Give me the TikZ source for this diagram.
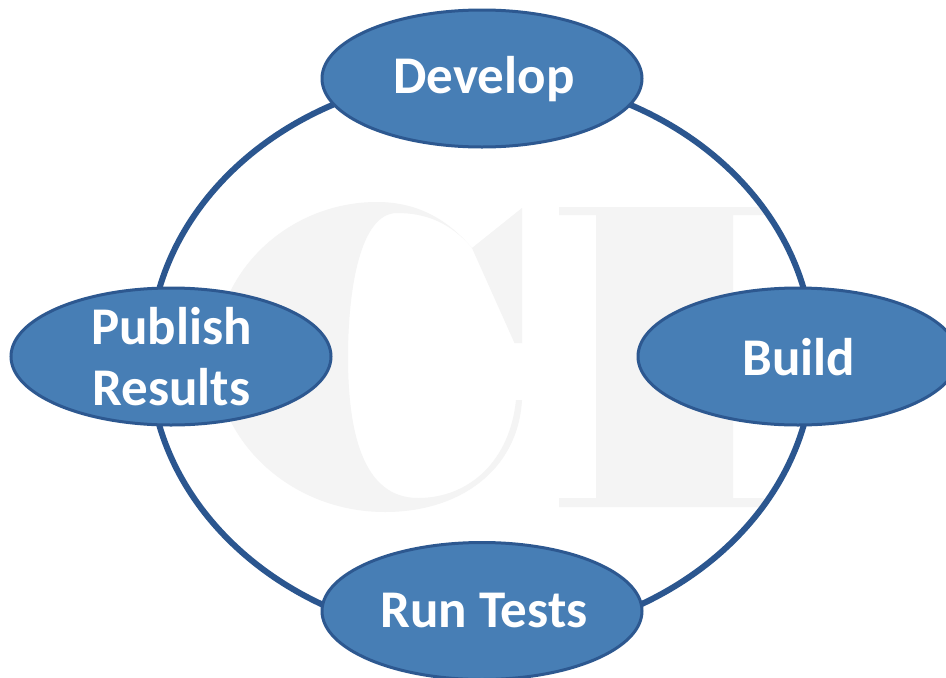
\documentclass[tikz,border=0pt]{standalone}
\usepackage{fontspec}
\setmainfont{Carlito}
\usetikzlibrary{shapes.geometric}
\definecolor{stagefill}{RGB}{71,126,181}
\definecolor{stageline}{RGB}{45,88,144}
\definecolor{cycleline}{RGB}{43,86,143}
\definecolor{wmgrey}{RGB}{244,244,244}
\tikzset{
  stagebox/.style={ellipse, draw=stageline, line width=3pt, fill=stagefill,
    minimum width=320pt, minimum height=137pt, inner sep=0pt},
  stagetext/.style={text=white, font=\fontsize{53}{61}\selectfont\bfseries,
    inner sep=0pt, align=center},
  watermark/.style={fill=wmgrey, draw=none},
  cycleloop/.style={draw=cycleline, line width=6pt}
}
\begin{document}
\begin{tikzpicture}[x=1pt,y=-1pt]
\useasboundingbox (0,0) rectangle (946,678);
\clip (0,0) rectangle (946,678);
\fill[white] (0,0) rectangle (946,678);
% watermark C
\fill[watermark] (522,208) -- (522,343) -- (514.5,343) -- (472,248)
  .. controls (450,222) and (425,213) .. (397,213)
  .. controls (360,213) and (348,290) .. (348,357)
  .. controls (348,430) and (362,498) .. (418,498)
  .. controls (470,498) and (510,460) .. (516,400)
  -- (522,400)
  .. controls (518,470) and (460,512) .. (385,512)
  .. controls (290,512) and (215,440) .. (215,357)
  .. controls (215,270) and (290,202) .. (377,202)
  .. controls (420,202) and (450,222) .. (472,248)
  -- cycle;
% watermark I
\fill[watermark] (559,207) -- (764,207) -- (764,215) -- (733,215) -- (733,498)
  -- (764,498) -- (764,507) -- (559,507) -- (559,498) -- (596,498)
  -- (596,215) -- (559,215) -- cycle;
% cycle
\coordinate (cyc) at (481.5,357);
\draw[cycleloop] (cyc) ellipse [x radius=332pt, y radius=282pt];
% stages
\node[stagebox] (dev) at (482,78.5) {};
\node[stagebox] (bld) at (798,356.5) {};
\node[stagebox] (tst) at (482,611) {};
\node[stagebox] (pub) at (171,356.5) {};
\node[stagetext, anchor=base] (devt) at (484,93) {Develop};
\node[stagetext, anchor=base] (bldt) at (799,375) {Build};
\node[stagetext, anchor=base] (tstt) at (484,627) {Run Tests};
\node[stagetext] (pubt) at (171.5,357) {Publish\\Results};
\end{tikzpicture}
\end{document}
